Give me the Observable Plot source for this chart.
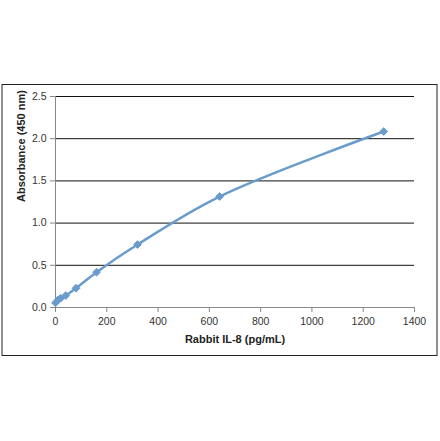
<!DOCTYPE html>
<html><head><meta charset="utf-8">
<script src="https://cdn.jsdelivr.net/npm/d3@7"></script>
<script src="https://cdn.jsdelivr.net/npm/@observablehq/plot@0.6"></script>
<style>
html,body{margin:0;padding:0;background:#fff;}
#chart{width:440px;height:441px;}
</style></head>
<body><div id="chart"></div>
<script>
const concentration = [0, 10, 20, 40, 80, 160, 320, 640, 1280];
const absorbance = [0.055, 0.09, 0.11, 0.142, 0.228, 0.418, 0.746, 1.315, 2.085];
const xTicks = [0, 200, 400, 600, 800, 1000, 1200, 1400];
const yTicks = [0, 0.5, 1.0, 1.5, 2.0, 2.5];

const data = concentration.map((c, i) => ({x: c, y: absorbance[i]}));
const lineColor = "#6a9ccb";

const chart = Plot.plot({
  width: 440,
  height: 441,
  marginLeft: 55,
  marginRight: 26,
  marginTop: 96,
  marginBottom: 134,
  style: {fontFamily: "'Liberation Sans', Arial, sans-serif", fontSize: "10.5px", color: "#333", background: "#fff"},
  x: {domain: [0, 1400], ticks: xTicks},
  y: {domain: [0, 2.5], ticks: yTicks},
  marks: [
    Plot.gridY(yTicks, {stroke: "#111", strokeOpacity: 1, strokeWidth: 1}),
    Plot.ruleX([0], {stroke: "#888", strokeWidth: 1}),
    Plot.ruleY([0], {stroke: "#888", strokeWidth: 1}),
    Plot.axisX({ticks: xTicks, tickSize: 5, tickPadding: 5, stroke: "#888", fill: "#333", label: null, tickFormat: d => String(d)}),
    Plot.axisY({ticks: yTicks, tickSize: 5, tickPadding: 4, stroke: "#888", fill: "#333", label: null, tickFormat: d => d.toFixed(1)}),
    Plot.text(["Rabbit IL-8 (pg/mL)"], {frameAnchor: "bottom", dy: 35, fontWeight: "bold", fontSize: 11, fill: "#222"}),
    Plot.text(["Absorbance (450 nm)"], {frameAnchor: "left", dx: -34, rotate: -90, fontWeight: "bold", fontSize: 11, fill: "#222"}),
    Plot.line(data, {x: "x", y: "y", curve: "catmull-rom", stroke: lineColor, strokeWidth: 2.5}),
    Plot.dot(data, {x: "x", y: "y", symbol: "diamond2", r: 3.5, fill: lineColor, stroke: lineColor, strokeWidth: 1})
  ]
});

d3.select(chart).append("rect")
  .attr("x", 2).attr("y", 84.5).attr("width", 435).attr("height", 271)
  .attr("fill", "none").attr("stroke", "#222").attr("stroke-width", 1);

document.getElementById("chart").appendChild(chart);
</script>
</body></html>
